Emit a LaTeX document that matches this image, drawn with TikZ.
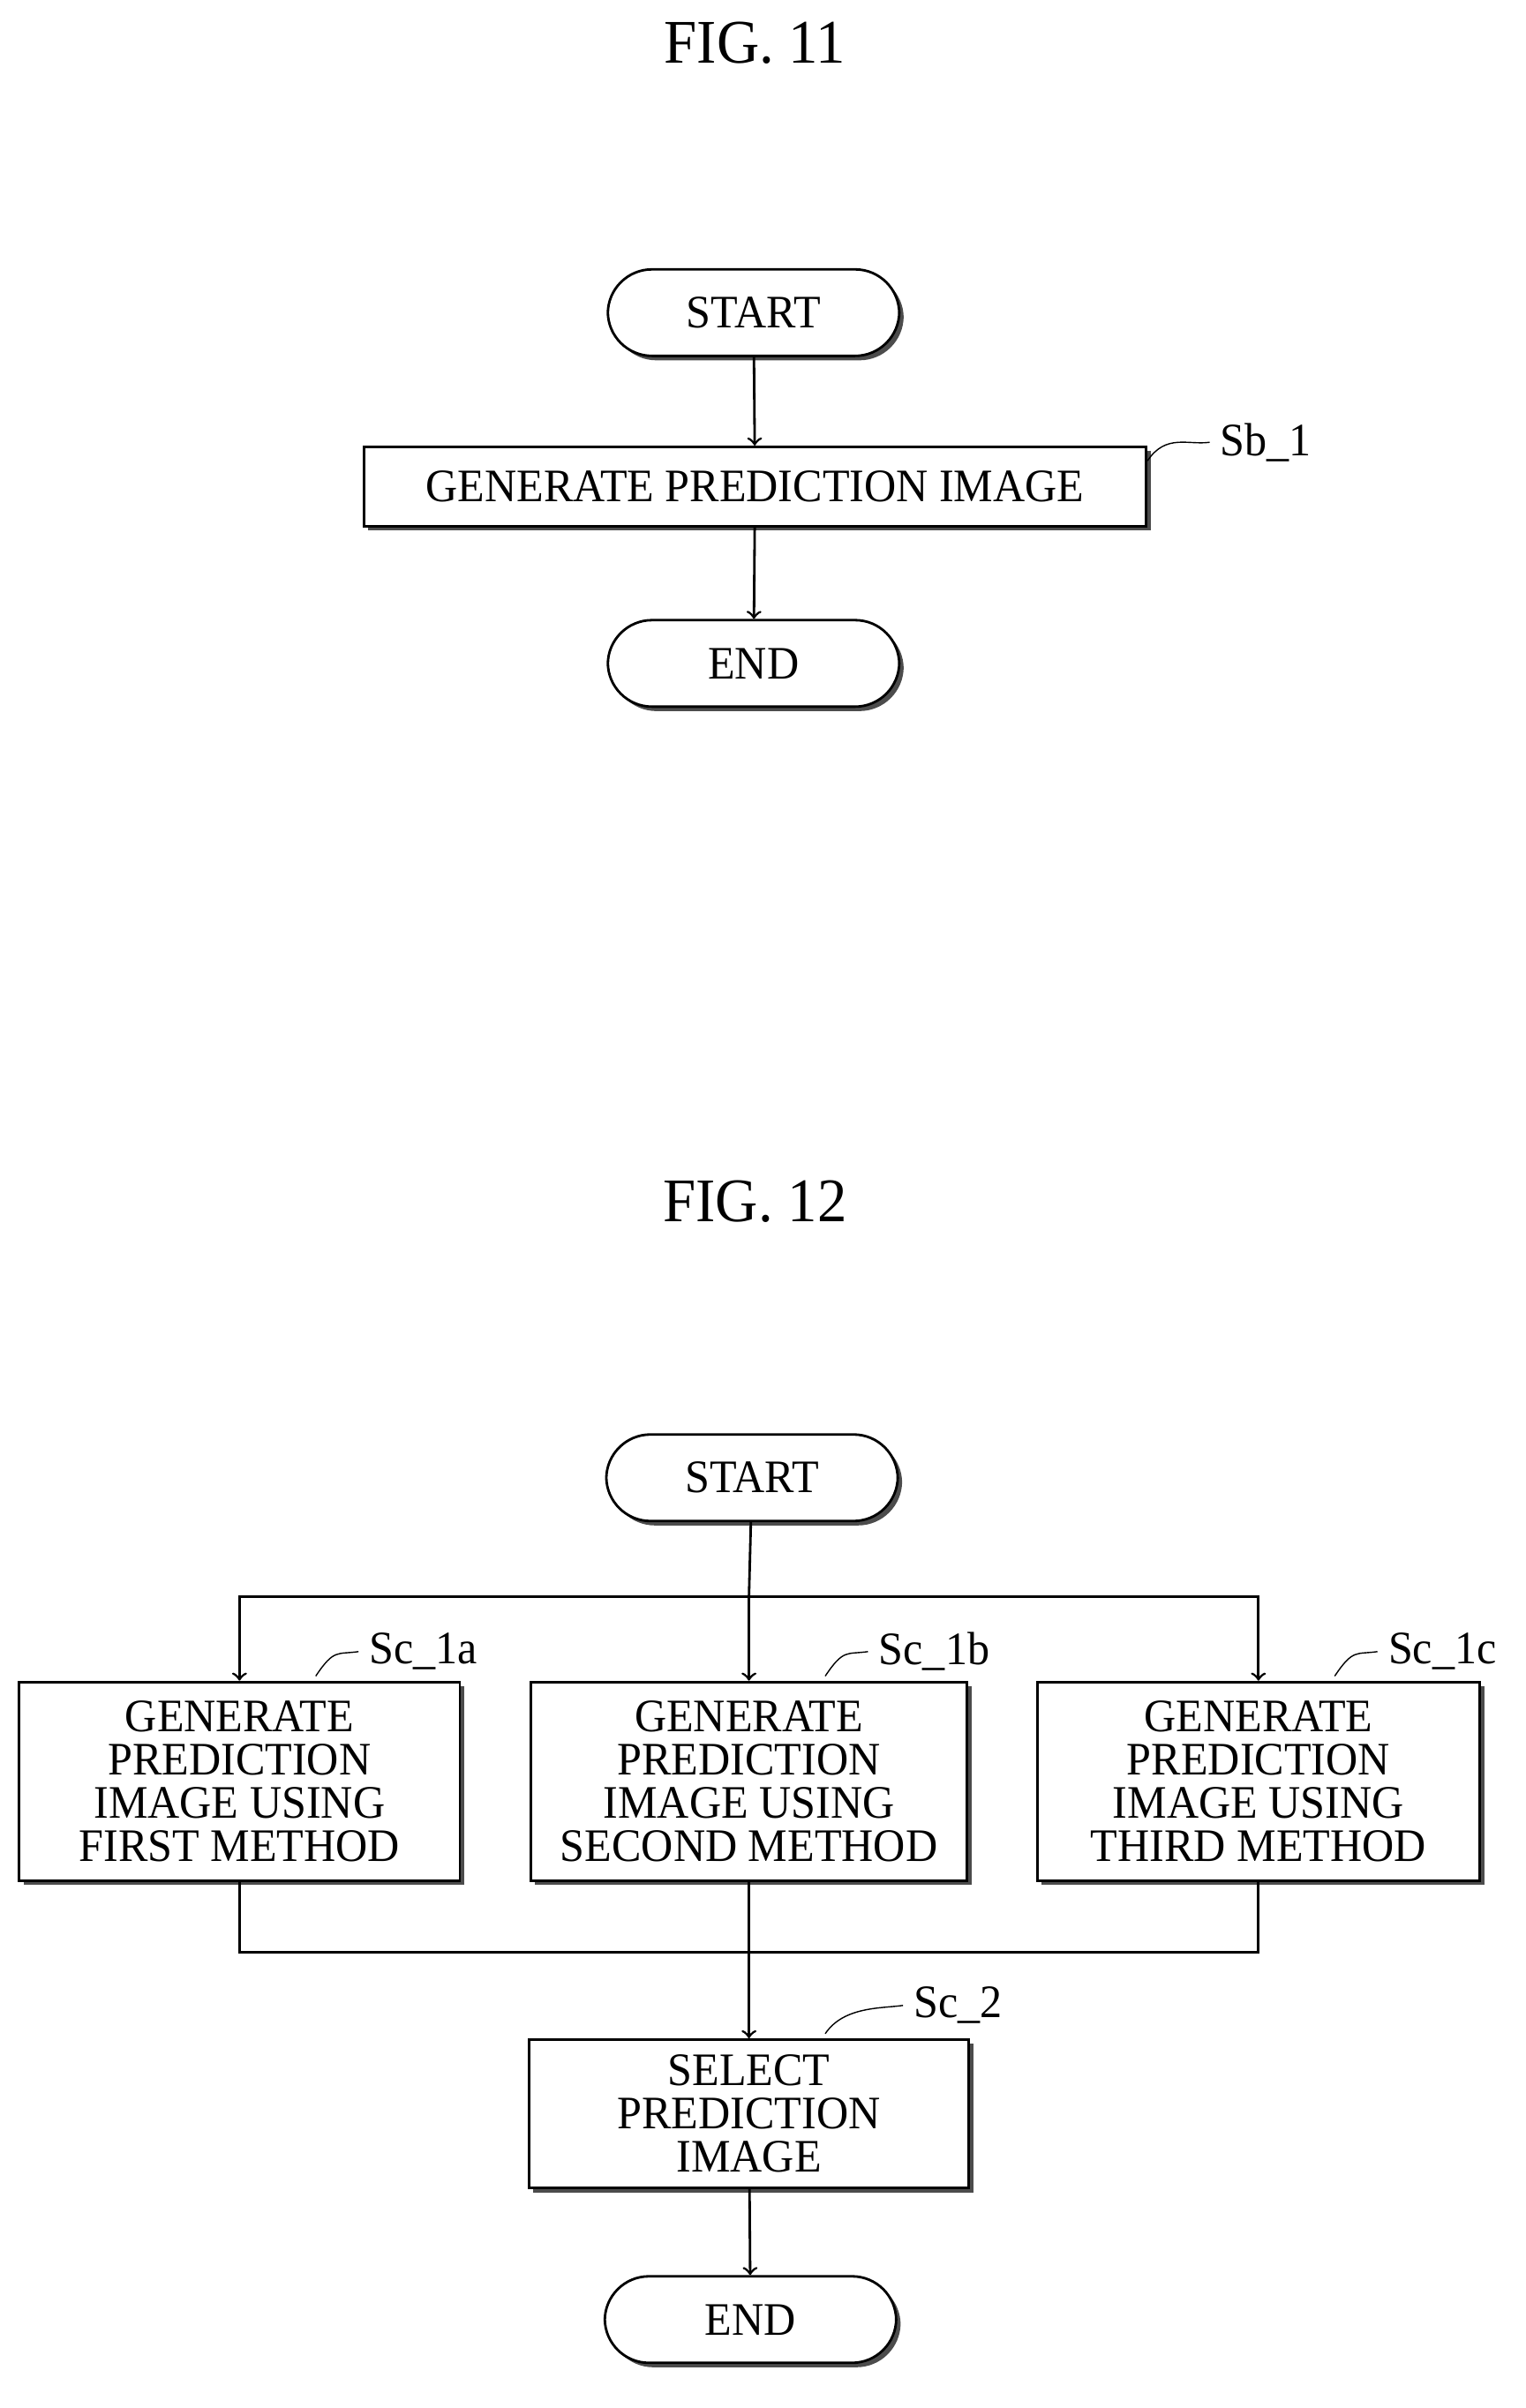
\documentclass[tikz,border=0pt]{standalone}
\usepackage{fontspec}
\setmainfont{Liberation Serif}[FakeStretch=0.95]
\usetikzlibrary{shadows}

\begin{document}
\begin{tikzpicture}[x=0.01728cm, y=-0.01728cm,
    every node/.style={font=\fontsize{15}{14}\selectfont},
    shad/.style={drop shadow={shadow xshift=0.05cm, shadow yshift=-0.05cm, fill=black!70, opacity=1}},
    term/.style={draw, thick, fill=white, rounded corners=0.5cm, minimum width=3.3cm, minimum height=0.98cm, shad},
    proc/.style={draw, thick, fill=white, minimum height=0.9cm, align=center, inner sep=1pt, shad},
    ref/.style={font=\fontsize{15}{15}\selectfont, anchor=west},
    title/.style={font=\fontsize{20}{20}\selectfont}]
    \useasboundingbox (0,0) rectangle (1000,1579);

    % FIG. 11
    \node[title] (t11) at (495,28) {FIG. 11};
    \node[term] (start1) at (494,205) {START};
    \node[proc, minimum width=8.86cm] (sb1) at (495,319) {GENERATE PREDICTION IMAGE};
    \node[term] (end1) at (494,435) {END};
    \node[ref] (lsb1) at (793,290) {Sb\_1};

    \draw[->, thick] (start1) -- (sb1);
    \draw[->, thick] (sb1) -- (end1);
    \draw (sb1.north east) ++(0,10) .. controls +(12,-18) and +(-14,2) .. (lsb1.west);

    % FIG. 12
    \node[title] (t12) at (495,788) {FIG. 12};
    \node[term] (start2) at (493,969) {START};
    \node[proc, minimum width=4.99cm, minimum height=2.25cm] (sca) at (157,1168) {GENERATE\\PREDICTION\\IMAGE USING\\FIRST METHOD};
    \node[proc, minimum width=4.94cm, minimum height=2.25cm] (scb) at (491,1168) {GENERATE\\PREDICTION\\IMAGE USING\\SECOND METHOD};
    \node[proc, minimum width=5.01cm, minimum height=2.25cm] (scc) at (825,1168) {GENERATE\\PREDICTION\\IMAGE USING\\THIRD METHOD};
    \node[proc, minimum width=4.98cm, minimum height=1.68cm] (sc2) at (491,1386) {SELECT\\PREDICTION\\IMAGE};
    \node[term] (end2) at (492,1521) {END};
    \node[ref] (lsca) at (235,1083) {Sc\_1a};
    \node[ref] (lscb) at (569,1083) {Sc\_1b};
    \node[ref] (lscc) at (903,1083) {Sc\_1c};
    \node[ref] (lsc2) at (592,1315) {Sc\_2};

    \coordinate (split) at (491,1047);
    \coordinate (merge) at (491,1280);
    \draw[thick] (start2) -- (split);
    \draw[->, thick] (split) -| (sca);
    \draw[->, thick] (split) -- (scb);
    \draw[->, thick] (split) -| (scc);
    \draw[thick] (sca) |- (merge);
    \draw[thick] (scc) |- (merge);
    \draw[->, thick] (scb) -- (sc2);
    \draw[->, thick] (sc2) -- (end2);
    \foreach \bx/\lab in {sca/lsca, scb/lscb, scc/lscc, sc2/lsc2}
        \draw (\bx.north) ++(50,-3) .. controls +(12,-18) and +(-14,2) .. (\lab.west);
\end{tikzpicture}
\end{document}
